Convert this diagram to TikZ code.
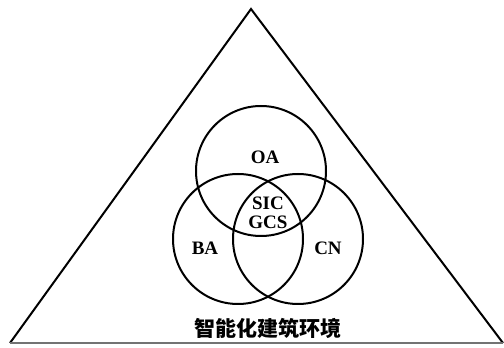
\documentclass[tikz,border=0pt]{standalone}
\usepackage{fontspec}
\setmainfont{Liberation Serif}
\newfontfamily\cjk{Noto Sans CJK SC}
\begin{document}
\begin{tikzpicture}[x=1pt,y=1pt,
  ln/.style={line width=2pt, line join=miter},
  lbl/.style={font=\fontsize{19}{19}\selectfont\bfseries, inner sep=0pt}]
\useasboundingbox (0,0) rectangle (504,348);
\coordinate (apex) at (251,339);
\coordinate (bl) at (10,5);
\coordinate (br) at (503,5);
\draw[ln] (bl) -- (apex) -- (br);
\draw[line width=1.2pt, black!55] (bl) -- (br);
\node[ln, draw, circle, minimum size=130pt, inner sep=0pt] (oa) at (261,177) {};
\node[ln, draw, circle, minimum size=130pt, inner sep=0pt] (ba) at (238,109) {};
\node[ln, draw, circle, minimum size=130pt, inner sep=0pt] (cn) at (298,109) {};
\node[lbl] (toa) at (265,191) {OA};
\node[lbl] (tsic) at (268,145) {SIC};
\node[lbl] (tgcs) at (268,126) {GCS};
\node[lbl] (tba) at (205,100) {BA};
\node[lbl] (tcn) at (328,100) {CN};
\node[font=\cjk\fontsize{21}{21}\selectfont\bfseries, inner sep=0pt] (env) at (268,20) {智能化建筑环境};
\end{tikzpicture}
\end{document}
